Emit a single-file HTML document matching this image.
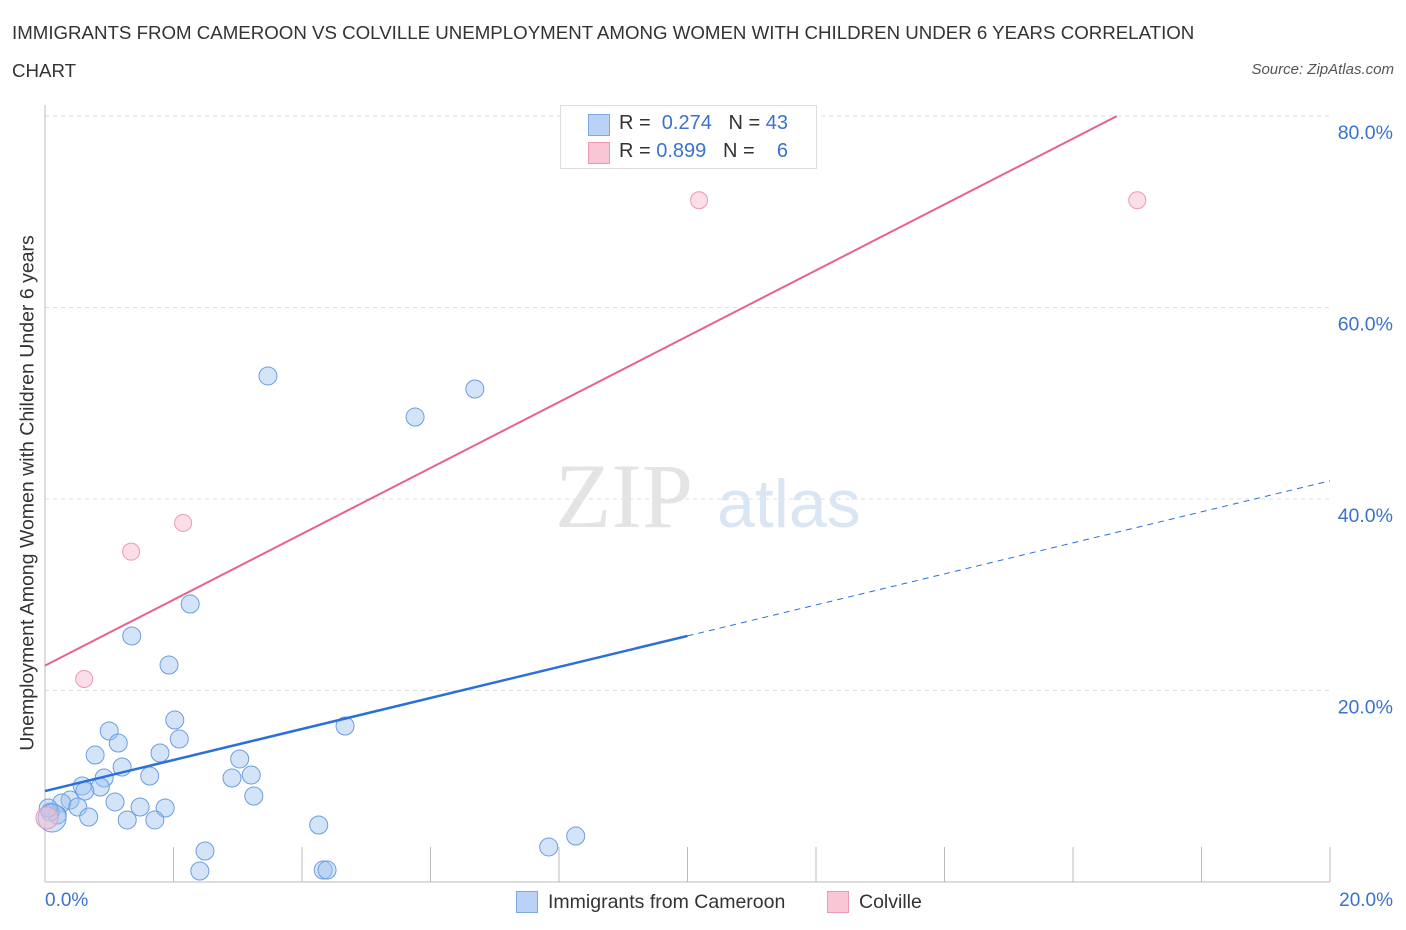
<!DOCTYPE html>
<html><head><meta charset="utf-8"><style>
body{margin:0;background:#fff;font-family:"Liberation Sans",sans-serif;}
#wrap{position:relative;width:1406px;height:930px;overflow:hidden;}
.t{position:absolute;white-space:nowrap;}
</style></head><body>
<div id="wrap">
<div class="t" style="left:12px;top:14px;font-size:18.7px;color:#333;line-height:38px;">IMMIGRANTS FROM CAMEROON VS COLVILLE UNEMPLOYMENT AMONG WOMEN WITH CHILDREN UNDER 6 YEARS CORRELATION<br>CHART</div>
<div class="t" style="right:12px;top:61px;font-size:15px;color:#555;font-style:italic;">Source: ZipAtlas.com</div>
<div class="t" style="left:28px;top:493px;font-size:19.5px;color:#333;transform:translate(-50%,-50%) rotate(-90deg);">Unemployment Among Women with Children Under 6 years</div>
<svg id="svg" width="1406" height="930" style="position:absolute;left:0;top:0"></svg>
<div style="position:absolute;left:560px;top:105px;width:255px;height:62px;border:1px solid #ddd;background:#fff;font-size:20px;">
<div style="position:absolute;left:27px;top:8px;width:20px;height:20px;background:#b9d2f5;border:1px solid #7ea8e0;"></div>
<div class="t" style="left:58px;top:6px;color:#333;">R = <span style="color:#3a72d0">&nbsp;0.274</span>&nbsp;&nbsp;&nbsp;N = <span style="color:#3a72d0">43</span></div>
<div style="position:absolute;left:27px;top:36px;width:20px;height:20px;background:#f9c6d5;border:1px solid #ec9ab2;"></div>
<div class="t" style="left:58px;top:34px;color:#333;">R = <span style="color:#3a72d0">0.899</span>&nbsp;&nbsp;&nbsp;N = <span style="color:#3a72d0">&nbsp;&nbsp;&nbsp;6</span></div>
</div>
<div class="t" style="left:45px;top:890px;font-size:19px;color:#3a72d0;">0.0%</div>
<div class="t" style="right:13px;top:890px;font-size:19px;color:#3a72d0;">20.0%</div>
<div style="position:absolute;left:516px;top:891px;width:20px;height:20px;background:#b9d2f5;border:1px solid #7ea8e0;"></div>
<div class="t" style="left:548px;top:891px;font-size:19.5px;color:#333;">Immigrants from Cameroon</div>
<div style="position:absolute;left:827px;top:891px;width:20px;height:20px;background:#f9c6d5;border:1px solid #ec9ab2;"></div>
<div class="t" style="left:859px;top:891px;font-size:19.5px;color:#333;">Colville</div>
</div>
<script>
const yTicks=[20,40,60,80];
const yTickLabels=["20.0%","40.0%","60.0%","80.0%"];
const blueX=[3.47,6.69,5.76,2.26,1.35,1.93,2.02,1.00,2.09,1.14,0.78,1.79,3.03,1.20,1.63,2.91,3.21,0.92,0.58,0.86,0.62,3.25,1.09,0.39,0.26,1.48,0.51,1.87,0.68,1.28,1.71,0.19,0.08,0.05,4.67,4.26,8.26,7.84,2.49,2.41,4.33,4.39,0.11];
const blueY=[52.85,51.49,48.56,29.03,25.69,22.66,16.92,15.77,14.93,14.52,13.26,13.47,12.85,12.01,11.07,10.86,11.17,10.86,10.03,9.92,9.5,8.98,8.36,8.56,8.25,7.83,7.83,7.73,6.79,6.48,6.48,7.0,7.31,7.73,16.29,5.95,4.8,3.66,3.24,1.15,1.25,1.25,6.68];
const pinkX=[0.61,1.34,2.15,10.18,17.0,0.03];
const pinkY=[21.2,34.5,37.5,71.2,71.2,6.7];
const blueFit=[9.5,1.62];   // intercept, slope
const blueSolidEnd=10.0;
const pinkFit=[22.6,3.44];
const pinkEnd=16.68;
const X=v=>45+v/20*1285, Y=v=>882-v/20*191.5;
const svg=document.getElementById('svg'),NS='http://www.w3.org/2000/svg';
function mk(t,a){const e=document.createElementNS(NS,t);for(const k in a)e.setAttribute(k,a[k]);svg.appendChild(e);return e;}
yTicks.forEach((v,i)=>{
 const g=mk('line',{x1:45,x2:1330,y1:Y(v),y2:Y(v),stroke:'#ddd','stroke-dasharray':'4,4'});
 
 
 const t=mk('text',{x:1393,y:Y(v)+23,'text-anchor':'end','font-size':19.5,fill:'#3a72d0','font-family':'Liberation Sans'});
 t.textContent=yTickLabels[i];
 
 
});
const ax=mk('line',{x1:45,x2:45,y1:105,y2:882,stroke:'#bbb'});


const bx=mk('line',{x1:45,x2:1330,y1:882,y2:882,stroke:'#bbb'});


for(let i=1;i<=10;i++){const l=mk('line',{x1:X(i*2),x2:X(i*2),y1:847,y2:882,stroke:'#bbb'});
 
 }
const wm=mk('text',{x:555,y:527,'font-size':92,fill:'#e4e4e4','font-family':'Liberation Serif'});wm.textContent='ZIP';


const wm2=mk('text',{x:717,y:527,'font-size':68,fill:'#dbe6f5','font-family':'Liberation Sans'});wm2.textContent='atlas';


blueX.forEach((x,i)=>{const c=mk('circle',{cx:X(x),cy:Y(blueY[i]),r:i==blueX.length-1?14:9,fill:'rgba(160,195,240,0.45)',stroke:'#6b9de0','stroke-width':1});
 
 });
pinkX.forEach((x,i)=>{const c=mk('circle',{cx:X(x),cy:Y(pinkY[i]),r:i==pinkX.length-1?11:8.5,fill:'rgba(248,190,208,0.5)',stroke:'#eb9ab2','stroke-width':1});
 
 });
const bl=mk('line',{x1:X(0),y1:Y(blueFit[0]),x2:X(blueSolidEnd),y2:Y(blueFit[0]+blueFit[1]*blueSolidEnd),stroke:'#2a70d8','stroke-width':2.5});


const bd=mk('line',{x1:X(blueSolidEnd),y1:Y(blueFit[0]+blueFit[1]*blueSolidEnd),x2:X(20),y2:Y(blueFit[0]+blueFit[1]*20),stroke:'#2a70d8','stroke-width':1,'stroke-dasharray':'6,5'});


const pl=mk('line',{x1:X(0),y1:Y(pinkFit[0]),x2:X(pinkEnd),y2:Y(pinkFit[0]+pinkFit[1]*pinkEnd),stroke:'#e8628c','stroke-width':2});


</script>
</body></html>
